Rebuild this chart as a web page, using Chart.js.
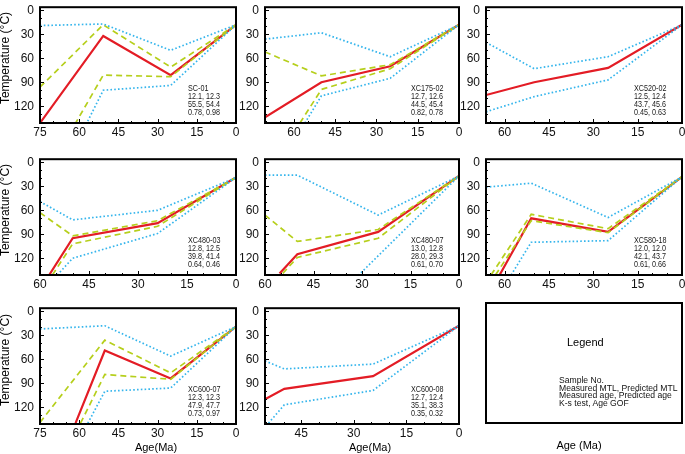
<!DOCTYPE html>
<html>
<head>
<meta charset="utf-8">
<script src="https://cdn.jsdelivr.net/npm/chart.js@4.4.0/dist/chart.umd.min.js"></script>
<style>
  body { margin: 0; background: #fff; }
  #wrap { position: relative; width: 685px; height: 454px; overflow: hidden; font-family: "Liberation Sans", Arial, sans-serif; }
  canvas { position: absolute; }
  .ytitle { position: absolute; font-size: 12px; white-space: nowrap; transform: translate(-50%, -50%) rotate(-90deg); }
  .xtitle { position: absolute; font-size: 11px; white-space: nowrap; transform: translate(-50%, -50%); }
  #legend { position: absolute; left: 485px; top: 302px; width: 194px; height: 118px; border: 2px solid #000; }
</style>
</head>
<body>
<div id="wrap"></div>
<script>
// tick labels
const tempTicks = [0, 30, 60, 90, 120];
const ageStep = 15;

// SC-01
const sc01Stats = ["SC-01", "12.1, 12.3", "55.5, 54.4", "0.78, 0.98"];
const sc01AgeMax = 75;
const sc01Best = [[75, 141], [50.8, 32], [25, 81], [0, 18]];
const sc01GoodHi = [[75, 96], [50.8, 18], [25, 71], [0, 18]];
const sc01GoodLo = [[61.7, 143], [50.8, 81], [25, 83], [0, 18]];
const sc01AccHi = [[75, 19], [50.8, 17], [25, 50], [0, 18]];
const sc01AccLo = [[57.4, 143], [50.8, 100], [25, 94], [0, 18]];

// XC175-02
const xc17502Stats = ["XC175-02", "12.7, 12.6", "44.5, 45.4", "0.82, 0.78"];
const xc17502AgeMax = 70.5;
const xc17502Best = [[70.5, 134], [50, 90], [25, 70], [0, 18]];
const xc17502GoodHi = [[70.5, 52], [50, 82], [25, 68], [0, 18]];
const xc17502GoodLo = [[57.8, 141], [50, 99], [25, 73], [0, 18]];
const xc17502AccHi = [[70.5, 36], [50, 28], [25, 58], [0, 18]];
const xc17502AccLo = [[56, 141], [50, 107], [25, 85], [0, 18]];

// XC520-02
const xc52002Stats = ["XC520-02", "12.5, 12.4", "43.7, 45.6", "0.45, 0.63"];
const xc52002AgeMax = 66.3;
const xc52002Best = [[66.3, 106], [50, 90], [25, 72], [0, 18]];
const xc52002AccHi = [[66.3, 40], [50, 73], [25, 58], [0, 18]];
const xc52002AccLo = [[66.3, 127], [50, 108], [25, 87], [0, 18]];

// XC480-03
const xc48003Stats = ["XC480-03", "12.8, 12.5", "39.8, 41.4", "0.64, 0.46"];
const xc48003AgeMax = 60;
const xc48003Best = [[57.2, 141], [50, 95], [24, 76], [0, 19]];
const xc48003GoodHi = [[60, 63], [50, 92], [24, 73], [0, 19]];
const xc48003GoodLo = [[56.2, 141], [50, 102], [24, 80], [0, 19]];
const xc48003AccHi = [[60, 49], [50, 72], [24, 60], [0, 19]];
const xc48003AccLo = [[54.7, 141], [50, 120], [24, 89], [0, 19]];

// XC480-07
const xc48007Stats = ["XC480-07", "13.0, 12.8", "28.0, 29.3", "0.61, 0.70"];
const xc48007AgeMax = 60;
const xc48007Best = [[55.5, 139], [50, 115], [25, 87], [0, 17]];
const xc48007GoodHi = [[60, 66], [50, 99], [25, 84], [0, 17]];
const xc48007GoodLo = [[54.5, 139], [50, 119], [25, 95], [0, 17]];
const xc48007AccHi = [[60, 16], [50, 16], [25, 66], [0, 17]];
const xc48007AccLo = [[32, 145], [0, 17]];

// XC580-18
const xc58018Stats = ["XC580-18", "12.0, 12.0", "42.1, 43.7", "0.61, 0.66"];
const xc58018AgeMax = 66.3;
const xc58018Best = [[61.7, 141], [51, 70], [25, 87], [0, 18]];
const xc58018GoodHi = [[64.6, 141], [51, 65], [25, 83], [0, 18]];
const xc58018GoodLo = [[63.1, 141], [51, 73], [25, 88], [0, 18]];
const xc58018AccHi = [[66.3, 31], [51, 26], [25, 69], [0, 18]];
const xc58018AccLo = [[57.8, 141], [51, 100], [25, 98], [0, 18]];

// XC600-07
const xc60007Stats = ["XC600-07", "12.3, 12.3", "47.9, 47.7", "0.73, 0.97"];
const xc60007AgeMax = 75;
const xc60007Best = [[61.4, 140], [50.2, 49], [25, 84], [0, 19]];
const xc60007GoodHi = [[75, 139], [50.2, 36], [25, 77], [0, 19]];
const xc60007GoodLo = [[59.5, 140], [50.2, 79], [25, 85], [0, 19]];
const xc60007AccHi = [[75, 22], [50.2, 18], [25, 56], [0, 19]];
const xc60007AccLo = [[56.7, 140], [50.2, 100], [25, 96], [0, 19]];

// XC600-08
const xc60008Stats = ["XC600-08", "12.7, 12.4", "35.1, 38.3", "0.35, 0.32"];
const xc60008AgeMax = 55.3;
const xc60008Best = [[55.3, 110], [49.8, 97], [24.5, 81], [0, 18]];
const xc60008AccHi = [[55.3, 62], [49.8, 72], [24.5, 66], [0, 18]];
const xc60008AccLo = [[54.3, 140], [49.8, 117], [24.5, 99], [0, 18]];

const legendLines = ["Sample No.", "Measured MTL, Predicted MTL", "Measured age, Predicted age", "K-s test, Age GOF"];

const panels = [
  { stats: sc01Stats, ageMax: sc01AgeMax, best: sc01Best, good: [sc01GoodHi, sc01GoodLo], acc: [sc01AccHi, sc01AccLo] },
  { stats: xc17502Stats, ageMax: xc17502AgeMax, best: xc17502Best, good: [xc17502GoodHi, xc17502GoodLo], acc: [xc17502AccHi, xc17502AccLo] },
  { stats: xc52002Stats, ageMax: xc52002AgeMax, best: xc52002Best, good: [], acc: [xc52002AccHi, xc52002AccLo] },
  { stats: xc48003Stats, ageMax: xc48003AgeMax, best: xc48003Best, good: [xc48003GoodHi, xc48003GoodLo], acc: [xc48003AccHi, xc48003AccLo] },
  { stats: xc48007Stats, ageMax: xc48007AgeMax, best: xc48007Best, good: [xc48007GoodHi, xc48007GoodLo], acc: [xc48007AccHi, xc48007AccLo] },
  { stats: xc58018Stats, ageMax: xc58018AgeMax, best: xc58018Best, good: [xc58018GoodHi, xc58018GoodLo], acc: [xc58018AccHi, xc58018AccLo] },
  { stats: xc60007Stats, ageMax: xc60007AgeMax, best: xc60007Best, good: [xc60007GoodHi, xc60007GoodLo], acc: [xc60007AccHi, xc60007AccLo] },
  { stats: xc60008Stats, ageMax: xc60008AgeMax, best: xc60008Best, good: [], acc: [xc60008AccHi, xc60008AccLo] }
];

// panel frames on the page
const colL = [40, 265, 486], colR = [236, 459, 682];
const rowT = [2, 154, 303], rowB = [123, 275, 424];
const YW = 40, XH = 22, PT = 8, PR = 10;

const wrap = document.getElementById('wrap');
const pts = arr => arr.map(p => ({ x: p[0], y: p[1] }));

const framePlugin = {
  id: 'frame',
  afterDatasetsDraw(chart) {
    const { ctx, chartArea: a, scales } = chart;
    ctx.save();
    ctx.strokeStyle = '#000';
    ctx.lineWidth = 1;
    // small inward ticks
    ctx.beginPath();
    for (let t = 0; t <= 140; t += 10) {
      const y = Math.round(scales.y.getPixelForValue(t)) + 0.5;
      const len = t % 30 === 0 ? 4 : 2;
      ctx.moveTo(a.left, y); ctx.lineTo(a.left + len, y);
    }
    for (let g = 5; g < chart.options.scales.x.max; g += 5) {
      const x = Math.round(scales.x.getPixelForValue(g)) + 0.5;
      const len = g % 15 === 0 ? 4 : 2;
      ctx.moveTo(x, a.bottom); ctx.lineTo(x, a.bottom - len);
    }
    ctx.stroke();
    ctx.lineWidth = 2;
    ctx.strokeRect(a.left, a.top, a.right - a.left, a.bottom - a.top);
    // sample statistics
    const lines = chart.options.plugins.frame.lines;
    ctx.fillStyle = '#1a1a1a';
    ctx.font = '9px "Liberation Sans", Arial, sans-serif';
    ctx.textBaseline = 'middle';
    lines.forEach((s, i) => {
      ctx.save();
      ctx.translate(a.right - 48, a.top + 81 + i * 8);
      ctx.scale(0.8, 1);
      ctx.fillText(s, 0, 0);
      ctx.restore();
    });
    ctx.restore();
  }
};

panels.forEach((p, i) => {
  const col = i % 3, row = Math.floor(i / 3);
  const l = colL[col], r = colR[col], t = rowT[row], b = rowB[row];
  const w = (r - l) + YW + PR, h = (b - t) + PT + XH;
  const cv = document.createElement('canvas');
  cv.width = w; cv.height = h;
  cv.style.left = (l - YW) + 'px'; cv.style.top = (t - PT) + 'px';
  cv.style.width = w + 'px'; cv.style.height = h + 'px';
  wrap.appendChild(cv);

  const datasets = [];
  p.acc.forEach(s => datasets.push({ data: pts(s), borderColor: '#35b5ec', borderWidth: 1.7, borderDash: [1.6, 2.2] }));
  p.good.forEach(s => datasets.push({ data: pts(s), borderColor: '#b6cf1c', borderWidth: 1.7, borderDash: [6, 4] }));
  datasets.push({ data: pts(p.best), borderColor: '#e31c25', borderWidth: 2.2 });
  datasets.forEach(d => { d.pointRadius = 0; d.fill = false; d.tension = 0; d.clip = 0; });

  const ageTicks = [];
  for (let a = 0; a <= p.ageMax; a += ageStep) ageTicks.push(a);

  new Chart(cv.getContext('2d'), {
    type: 'line',
    data: { datasets },
    options: {
      responsive: false, animation: false, events: [],
      layout: { padding: { top: PT, right: PR, left: 0, bottom: 0 } },
      plugins: { legend: { display: false }, tooltip: { enabled: false }, frame: { lines: p.stats } },
      scales: {
        x: {
          type: 'linear', reverse: true, min: 0, max: p.ageMax,
          grid: { display: false, drawTicks: false, tickLength: 0 }, border: { display: false },
          afterBuildTicks: s => { s.ticks = ageTicks.map(v => ({ value: v })); },
          afterFit: s => { s.height = XH; },
          ticks: { color: '#111', font: { size: 12, family: '"Liberation Sans", Arial' }, padding: 2, maxRotation: 0, autoSkip: false }
        },
        y: {
          type: 'linear', reverse: true, min: -4, max: 141,
          grid: { display: false, drawTicks: false, tickLength: 0 }, border: { display: false },
          afterBuildTicks: s => { s.ticks = tempTicks.map(v => ({ value: v })); },
          afterFit: s => { s.width = YW; },
          ticks: { color: '#111', font: { size: 12, family: '"Liberation Sans", Arial' }, padding: 6 }
        }
      }
    },
    plugins: [framePlugin]
  });
});

// axis titles
[58, 210, 360].forEach(y => {
  const d = document.createElement('div');
  d.className = 'ytitle'; d.textContent = 'Temperature (°C)';
  d.style.left = '5px'; d.style.top = y + 'px';
  wrap.appendChild(d);
});
[[156, 447, 'Age(Ma)'], [370, 447, 'Age(Ma)'], [579, 445, 'Age (Ma)']].forEach(([x, y, s]) => {
  const d = document.createElement('div');
  d.className = 'xtitle'; d.textContent = s;
  d.style.left = x + 'px'; d.style.top = y + 'px';
  wrap.appendChild(d);
});

// legend box
const lg = document.createElement('div');
lg.id = 'legend';
lg.innerHTML = '<div style="position:absolute;left:80px;top:32px;font-size:11px;">Legend</div>' +
  '<div style="position:absolute;left:72px;top:73px;font-size:8.6px;line-height:7.6px;white-space:nowrap;color:#111;">' +
  legendLines.join('<br>') + '</div>';
wrap.appendChild(lg);
</script>
</body>
</html>
